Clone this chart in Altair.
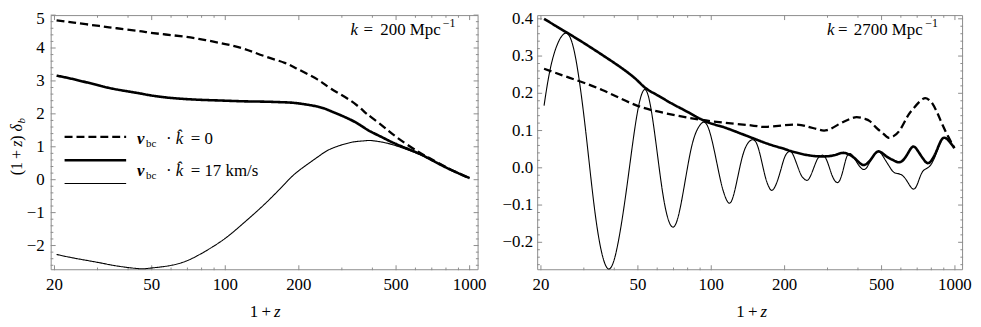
import altair as alt
import pandas as pd

# ---------------- data ----------------
# Left panel: k = 200 Mpc^-1
left_z = [20.4, 24, 30.5, 36, 44, 48.7, 57, 68.7, 83, 100, 120, 145, 175, 198,
          239, 271, 326, 370, 394, 446, 505, 609, 690, 806, 943, 1000]
left_dashed = [4.84, 4.77, 4.67, 4.60, 4.52, 4.47, 4.41, 4.34, 4.24, 4.12, 3.97, 3.75,
               3.55, 3.36, 3.04, 2.76, 2.40, 2.07, 1.91, 1.60, 1.28, 0.87, 0.64, 0.37,
               0.13, 0.05]
left_thick = [3.16, 3.05, 2.86, 2.74, 2.63, 2.57, 2.50, 2.45, 2.42, 2.40, 2.38, 2.37,
              2.35, 2.32, 2.22, 2.08, 1.82, 1.58, 1.46, 1.26, 1.07, 0.82, 0.62, 0.36,
              0.13, 0.05]
left_thin = [-2.27, -2.38, -2.52, -2.62, -2.70, -2.69, -2.63, -2.48, -2.17, -1.78,
             -1.29, -0.74, -0.13, 0.25, 0.69, 0.94, 1.13, 1.18, 1.19, 1.13, 1.02, 0.80,
             0.61, 0.36, 0.13, 0.05]

# Right panel: k = 2700 Mpc^-1
right_dashed_z = [20.6, 26.1, 35.7, 48.7, 66.6, 100, 145.5, 170, 218.5, 250, 271.7,
                  298.5, 338, 370, 395.6, 425, 448, 480, 507.8, 532, 560, 594, 635,
                  673, 739, 780, 811, 850, 891, 940, 995]
right_dashed = [0.266, 0.242, 0.209, 0.169, 0.145, 0.125, 0.114, 0.110, 0.116, 0.110,
                0.104, 0.101, 0.119, 0.131, 0.136, 0.132, 0.125, 0.105, 0.092, 0.081,
                0.085, 0.101, 0.135, 0.158, 0.185, 0.183, 0.171, 0.145, 0.114, 0.083,
                0.053]

right_thick_z = [20.6, 23, 25.7, 30, 35.7, 42, 48.7, 53.5, 60, 70, 80, 94.5, 110, 125,
                 150.2, 175, 198.9, 211.8, 240, 271.7, 300, 325, 350, 380, 405, 427,
                 455, 484, 520, 560, 600, 640, 673, 705, 745, 786, 840, 891, 945, 995]
right_thick = [0.400, 0.381, 0.362, 0.335, 0.303, 0.272, 0.240, 0.215, 0.195, 0.170,
               0.150, 0.125, 0.111, 0.098, 0.078, 0.062, 0.051, 0.045, 0.036, 0.031,
               0.031, 0.035, 0.040, 0.030, 0.014, 0.008, 0.025, 0.044, 0.032, 0.020,
               0.016, 0.038, 0.057, 0.045, 0.022, 0.014, 0.045, 0.079, 0.072, 0.053]

right_thin_z = [20.6, 22.5, 25.7, 28.5, 31, 34, 37.7, 41.5, 45.5, 49.5, 53.5, 57.5, 62,
                66, 70.4, 75.5, 82, 88, 94.5, 101, 108, 113, 118.7, 125, 133, 141, 150.2,
                158, 166, 172, 178.3, 188, 198, 205, 211.8, 220, 232, 240, 249, 260, 272,
                281, 289.4, 300, 313, 325, 336, 348, 360, 372, 383, 400, 427, 455, 484,
                510, 540, 565, 600, 635, 673, 705, 739, 787, 840, 891, 945, 995]
right_thin = [0.167, 0.300, 0.360, 0.250, 0.060, -0.160, -0.271, -0.200, -0.030, 0.140,
              0.210, 0.130, -0.030, -0.130, -0.158, -0.090, 0.040, 0.105, 0.121, 0.070,
              -0.020, -0.070, -0.095, -0.060, 0.020, 0.065, 0.074, 0.040, -0.020, -0.050,
              -0.060, -0.030, 0.020, 0.040, 0.044, 0.025, -0.015, -0.029, -0.033, -0.010,
              0.022, 0.032, 0.033, 0.015, -0.020, -0.038, -0.035, -0.005, 0.030, 0.038,
              0.030, 0.010, -0.004, 0.025, 0.044, 0.028, 0.002, -0.013, -0.018, -0.035,
              -0.057, -0.040, -0.009, 0.004, 0.040, 0.079, 0.072, 0.053]

# Tick values and labels
x_major = [20, 50, 100, 200, 500, 1000]
x_labels = ["20", "50", "100", "200", "500", "1000"]
x_minor = [30, 40, 60, 70, 80, 90, 300, 400, 600, 700, 800, 900]
left_y_major = [-2, -1, 0, 1, 2, 3, 4, 5]
left_y_labels = ["\u22122", "\u22121", "0", "1", "2", "3", "4", "5"]
left_y_minor = [-2.6, -2.4, -2.2, -1.8, -1.6, -1.4, -1.2, -0.8, -0.6, -0.4, -0.2,
                0.2, 0.4, 0.6, 0.8, 1.2, 1.4, 1.6, 1.8, 2.2, 2.4, 2.6, 2.8,
                3.2, 3.4, 3.6, 3.8, 4.2, 4.4, 4.6, 4.8]
right_y_major = [-0.2, -0.1, 0.0, 0.1, 0.2, 0.3, 0.4]
right_y_labels = ["\u22120.2", "\u22120.1", "0.0", "0.1", "0.2", "0.3", "0.4"]
right_y_minor = [-0.26, -0.24, -0.22, -0.18, -0.16, -0.14, -0.12, -0.08, -0.06, -0.04,
                 -0.02, 0.02, 0.04, 0.06, 0.08, 0.12, 0.14, 0.16, 0.18, 0.22, 0.24,
                 0.26, 0.28, 0.32, 0.34, 0.36, 0.38]

# ---------------- layout / style ----------------
FONT = "'Liberation Serif', 'Times New Roman', 'DejaVu Serif', serif"
FRAME = "#8c8c8c"
LABEL_SIZE = 17
H = 257
W_L = 431
GAP = 59
X0_R = W_L + GAP
W_R = 429
TOTAL_W = X0_R + W_R
INTERP = "natural"

ONE = pd.DataFrame({"a": [0]})


def txt(text, x, y, size=17, style="normal", weight="normal", align="left",
        baseline="alphabetic", angle=0):
    return alt.Chart(ONE).mark_text(
        text=text, font=FONT, fontSize=size, fontStyle=style, fontWeight=weight,
        align=align, baseline=baseline, angle=angle, color="black",
    ).encode(x=alt.value(x), y=alt.value(y))


def frame(x0, w):
    return alt.Chart(ONE).mark_rect(filled=False, stroke=FRAME, strokeWidth=1).encode(
        x=alt.value(x0 + 0.5), x2=alt.value(x0 + w - 0.5),
        y=alt.value(0.5), y2=alt.value(H - 0.5))


def xticks(vals, xs, length):
    df = pd.DataFrame({"t": vals})
    base = alt.Chart(df).mark_rule(color=FRAME, strokeWidth=1)
    b = base.encode(x=alt.X("t:Q", scale=xs, axis=None), y=alt.value(H), y2=alt.value(H - length))
    t = base.encode(x=alt.X("t:Q", scale=xs, axis=None), y=alt.value(0), y2=alt.value(length))
    return [b, t]


def yticks(vals, ys, x0, w, length):
    df = pd.DataFrame({"t": vals})
    base = alt.Chart(df).mark_rule(color=FRAME, strokeWidth=1)
    l = base.encode(y=alt.Y("t:Q", scale=ys, axis=None), x=alt.value(x0), x2=alt.value(x0 + length))
    r = base.encode(y=alt.Y("t:Q", scale=ys, axis=None), x=alt.value(x0 + w), x2=alt.value(x0 + w - length))
    return [l, r]


def xlabels(xs):
    df = pd.DataFrame({"t": x_major, "lab": x_labels})
    return alt.Chart(df).mark_text(font=FONT, fontSize=LABEL_SIZE, align="center",
                                   baseline="alphabetic", color="black").encode(
        x=alt.X("t:Q", scale=xs, axis=None), y=alt.value(H + 20), text="lab:N")


def ylabels(vals, labs, ys, xr, dy=0):
    df = pd.DataFrame({"t": vals, "lab": labs})
    return alt.Chart(df).mark_text(font=FONT, fontSize=LABEL_SIZE, align="right",
                                   baseline="middle", color="black", dy=dy).encode(
        y=alt.Y("t:Q", scale=ys, axis=None), x=alt.value(xr), text="lab:N")


def line(zs, ds, xs, ys, width, dash):
    df = pd.DataFrame({"z": zs, "d": ds})
    return alt.Chart(df).mark_line(color="black", interpolate=INTERP,
                                   strokeWidth=width, strokeDash=dash).encode(
        x=alt.X("z:Q", scale=xs, axis=None),
        y=alt.Y("d:Q", scale=ys, axis=None),
    )


DASH = [8, 4]
SOLID = [1, 0]

# ---------------- left panel ----------------
xs_L = alt.Scale(type="log", domain=[19.3, 1088], range=[0, W_L], nice=False)
ys_L = alt.Scale(domain=[-2.75, 5.0], range=[H, 0], nice=False, zero=False)

left_layers = [frame(0, W_L)]
left_layers += xticks(x_major, xs_L, 5) + xticks(x_minor, xs_L, 2.7)
left_layers += yticks(left_y_major, ys_L, 0, W_L, 5) + yticks(left_y_minor, ys_L, 0, W_L, 2.7)
left_layers += [
    xlabels(xs_L),
    ylabels(left_y_major[:-1], left_y_labels[:-1], ys_L, -6),
    # the top label sits on the frame's top edge; nudged down so it is not clipped
    ylabels(left_y_major[-1:], left_y_labels[-1:], ys_L, -6, dy=4),
]
left_layers += [
    line(left_z, left_thin, xs_L, ys_L, 1.1, SOLID),
    line(left_z, left_thick, xs_L, ys_L, 2.6, SOLID),
    line(left_z, left_dashed, xs_L, ys_L, 2.3, DASH),
]
# annotation k = 200 Mpc^-1
left_layers += [
    txt("k", 302, 20, style="italic"),
    txt("=", 315, 20),
    txt("200 Mpc", 332, 20),
    txt("\u22121", 395, 12, size=12),
]
# legend
left_layers += [
    alt.Chart(ONE).mark_rule(color="black", strokeWidth=2.3, strokeDash=DASH).encode(
        x=alt.value(14), x2=alt.value(76), y=alt.value(122.7)),
    alt.Chart(ONE).mark_rule(color="black", strokeWidth=2.6).encode(
        x=alt.value(14), x2=alt.value(76), y=alt.value(146.3)),
    alt.Chart(ONE).mark_rule(color="black", strokeWidth=1.1).encode(
        x=alt.value(14), x2=alt.value(76), y=alt.value(169.7)),
]
for yb, rest in [(129.7, "= 0"), (162, "= 17 km/s")]:
    left_layers += [
        txt("v", 87, yb, style="italic", weight="bold"),
        txt("bc", 96, yb + 3.5, size=11),
        txt("\u00b7", 119, yb, align="center"),
        txt("k\u0302", 126, yb, style="italic"),
        txt(rest, 141, yb),
    ]
# axis titles (x and y)
left_layers += [
    txt("1\u2009+", 222, 304, align="right"),
    txt("z", 225, 304, style="italic"),
    txt("(1\u2009+", -28.5, 161.4, size=16, angle=270),
    txt("z", -28.5, 132.7, size=16, style="italic", angle=270),
    txt(")", -28.5, 126.5, size=16, angle=270),
    txt("\u03b4", -28.5, 117.2, size=16, style="italic", angle=270),
    txt("b", -25.5, 109.2, size=11, style="italic", angle=270),
]
left = alt.layer(*left_layers)

# ---------------- right panel ----------------
xs_R = alt.Scale(type="log", domain=[19.3, 1080], range=[X0_R, X0_R + W_R], nice=False)
ys_R = alt.Scale(domain=[-0.275, 0.41], range=[H, 0], nice=False, zero=False)

right_layers = [frame(X0_R, W_R)]
right_layers += xticks(x_major, xs_R, 5) + xticks(x_minor, xs_R, 2.7)
right_layers += yticks(right_y_major, ys_R, X0_R, W_R, 5) + yticks(right_y_minor, ys_R, X0_R, W_R, 2.7)
right_layers += [xlabels(xs_R), ylabels(right_y_major, right_y_labels, ys_R, X0_R - 4)]
right_layers += [
    line(right_thin_z, right_thin, xs_R, ys_R, 1.1, SOLID),
    line(right_thick_z, right_thick, xs_R, ys_R, 2.6, SOLID),
    line(right_dashed_z, right_dashed, xs_R, ys_R, 2.3, DASH),
]
right_layers += [
    txt("k", 782, 20, style="italic"),
    txt("=", 793, 20),
    txt("2700 Mpc", 809, 20),
    txt("\u22121", 881, 12, size=12),
    txt("1\u2009+", 712, 304, align="right"),
    txt("z", 715, 304, style="italic"),
]
right = alt.layer(*right_layers)

chart = alt.layer(left, right).resolve_scale(
    x="independent", y="independent"
).properties(
    width=TOTAL_W, height=H,
    autosize=alt.AutoSizeParams(type="none"),
    padding={"left": 43, "top": 6, "right": 10, "bottom": 50},
).configure_view(strokeWidth=0)

chart.save("out.html", embed_options={"renderer": "svg", "actions": False})
